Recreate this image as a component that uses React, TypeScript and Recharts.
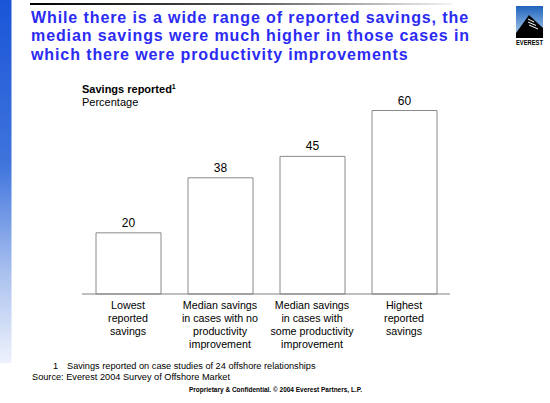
import React from "react";
import { BarChart, Bar, XAxis, YAxis, LabelList } from "recharts";

const categories: string[][] = [
  ["Lowest", "reported", "savings"],
  ["Median savings", "in cases with no", "productivity", "improvement"],
  ["Median savings", "in cases with", "some productivity", "improvement"],
  ["Highest", "reported", "savings"],
];
const savings: number[] = [20, 38, 45, 60];

const titleLines = [
  "While there is a wide range of reported savings, the",
  "median savings were much higher in those cases in",
  "which there were productivity improvements",
];

const data = categories.map((c, i) => ({ key: String(i), label: c, value: savings[i] }));

const font = "'Liberation Sans', Arial, sans-serif";

const CatTick = (props: any) => {
  const { x, y, payload } = props;
  const lines = categories[Number(payload.value)] || [];
  return (
    <g>
      {lines.map((l, i) => (
        <text key={i} x={x} y={y + 7 + i * 13} textAnchor="middle" fontSize={10.7} fill="#000" fontFamily={font}>
          {l}
        </text>
      ))}
    </g>
  );
};

export default function App() {
  return (
    <div style={{ position: "absolute", left: 0, top: 0, width: 550, height: 403, background: "#fff", overflow: "hidden", fontFamily: font }}>
      <svg width={550} height={403} style={{ position: "absolute", left: 0, top: 0 }}>
        <defs>
          <linearGradient id="pageLeftBar" x1="0" y1="0" x2="0" y2="1">
            <stop offset="0" stopColor="#1a55d8" />
            <stop offset="0.45" stopColor="#3f74dc" />
            <stop offset="0.75" stopColor="#a9c0ee" />
            <stop offset="1" stopColor="#eef2fc" />
          </linearGradient>
          <linearGradient id="pageTopLine" x1="0" y1="0" x2="1" y2="0">
            <stop offset="0" stopColor="#000" />
            <stop offset="0.5" stopColor="#555" />
            <stop offset="1" stopColor="#f4f4f4" />
          </linearGradient>
          <linearGradient id="logoSky" x1="0" y1="0" x2="0" y2="1">
            <stop offset="0" stopColor="#1f63bd" />
            <stop offset="1" stopColor="#b9d6f0" />
          </linearGradient>
        </defs>
        <rect x={0} y={0} width={11.5} height={363} fill="url(#pageLeftBar)" />
        <rect x={30} y={3} width={422} height={2} fill="url(#pageTopLine)" />
        <g>
          <rect x={516} y={6} width={27} height={32} fill="url(#logoSky)" />
          <polygon points="516,38 516,33 529,15 543,28 543,38" fill="#000" />
          <line x1={528} y1={19} x2={534} y2={22} stroke="#fff" strokeWidth={1} />
          <line x1={528} y1={22} x2={536} y2={25.5} stroke="#fff" strokeWidth={1} />
          <line x1={529} y1={25} x2={538} y2={29} stroke="#fff" strokeWidth={1} />
          <text x={516} y={45} fontSize={6.5} fontWeight="bold" fill="#000" textLength={27} lengthAdjust="spacingAndGlyphs" fontFamily={font}>EVEREST</text>
        </g>
        {titleLines.map((t, i) => (
          <text key={i} x={31} y={22.5 + i * 18.7} fontSize={16} fontWeight="bold" fill="#2b2bf3" letterSpacing={0.9} fontFamily={font}>
            {t}
          </text>
        ))}
        <text x={82} y={92.5} fontSize={11} fontWeight="bold" fill="#000" fontFamily={font}>
          Savings reported<tspan fontSize={7} dy={-4}>1</tspan>
        </text>
        <text x={82} y={105.5} fontSize={11} fill="#000" fontFamily={font}>Percentage</text>
        <text x={53} y={368.5} fontSize={9.2} fill="#000" fontFamily={font}>1</text>
        <text x={67} y={368.5} fontSize={9.2} fill="#000" fontFamily={font}>Savings reported on case studies of 24 offshore relationships</text>
        <text x={32} y={379.5} fontSize={9.2} fill="#000" fontFamily={font}>Source:  Everest 2004 Survey of Offshore Market</text>
        <text x={189} y={391.5} fontSize={7.5} fontWeight="bold" fill="#000" textLength={173} lengthAdjust="spacingAndGlyphs" fontFamily={font}>
          Proprietary &amp; Confidential. © 2004 Everest Partners, L.P.
        </text>
      </svg>
      <div style={{ position: "absolute", left: 0, top: 0 }}>
        <BarChart width={550} height={403} data={data} margin={{ top: 110.5, right: 100, bottom: 49, left: 82 }}>
          <XAxis dataKey="key" height={60} tickLine={false} axisLine={{ stroke: "#808080", strokeWidth: 1 }} tick={<CatTick />} interval={0} />
          <YAxis hide domain={[0, 60]} />
          <Bar dataKey="value" fill="#fff" stroke="#8a8a8a" strokeWidth={1} barSize={65} isAnimationActive={false}>
            <LabelList dataKey="value" position="top" offset={6} fontSize={12} fill="#000" fontFamily={font} />
          </Bar>
        </BarChart>
      </div>
    </div>
  );
}
